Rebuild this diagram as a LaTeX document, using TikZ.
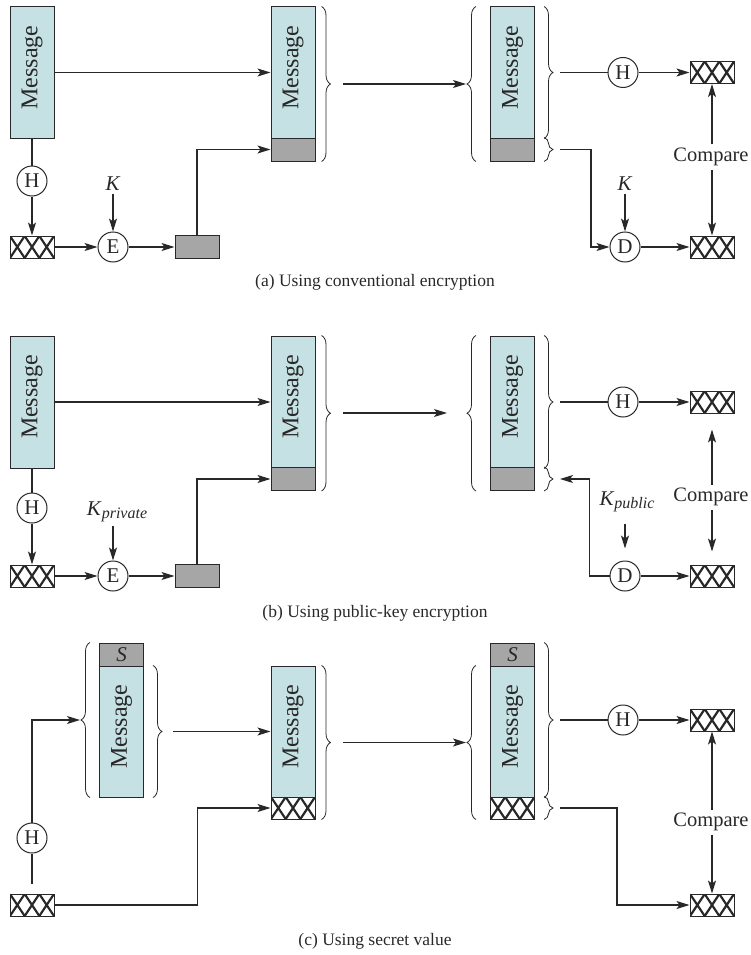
\documentclass[tikz,border=0pt]{standalone}
\usepackage{fontspec}
\setmainfont{Liberation Serif}
\usetikzlibrary{arrows.meta,decorations.pathreplacing,calc}
\definecolor{msgc}{RGB}{197,225,228}
\definecolor{grayc}{RGB}{166,166,166}
\definecolor{linec}{RGB}{40,40,40}
\tikzset{
  base/.style={font=\fontsize{21}{25}\selectfont, text=linec},
  captxt/.style={font=\fontsize{17.5}{21}\selectfont},
  cmptxt/.style={font=\fontsize{20.5}{24}\selectfont},
  msgtxt/.style={font=\fontsize{24}{28}\selectfont},
  msgbox/.style={msgtxt, draw=linec, line width=1pt, fill=msgc, minimum width=44pt, inner sep=0pt},
  graybox/.style={draw=linec, line width=1pt, fill=grayc, minimum width=44pt, minimum height=23pt, inner sep=0pt},
  hashbox/.style={draw=linec, line width=1pt, fill=white, minimum width=44pt, minimum height=22pt, inner sep=0pt,
    path picture={
      \foreach \i in {0,1,2}{
        \draw[line width=2.2pt, draw=linec]
          ([xshift={\i*14.667pt}]path picture bounding box.north west) -- ([xshift={(\i+1)*14.667pt}]path picture bounding box.south west)
          ([xshift={\i*14.667pt}]path picture bounding box.south west) -- ([xshift={(\i+1)*14.667pt}]path picture bounding box.north west);
      }}},
  circ/.style={circle, draw=linec, line width=1pt, fill=white, minimum size=30pt, inner sep=0pt},
  conn/.style={draw=linec, line width=1.2pt},
  arr/.style={conn, -{Stealth[length=13pt,width=8pt,inset=3pt]}},
  brc/.style={draw=linec, line width=0.8pt, decorate, decoration={brace, amplitude=9pt}},
}
\newcommand{\subtxt}[1]{\raisebox{-0.35ex}{\fontsize{16}{16}\selectfont\itshape #1}}
\newcommand{\msgtext}{\rotatebox{90}{\hspace{10pt}Message}}
\begin{document}
\begin{tikzpicture}[x=1pt,y=-1pt, every node/.style={base}]
\useasboundingbox (0,0) rectangle (751,955);

% ================= Panel (a) =================
\node[msgbox, minimum height=131pt] (am1) at (32,72.5) {\msgtext};
\node[circ] (ah1) at (32,181) {H};
\node[hashbox] (ax1) at (32,247) {};
\node[circ] (ae1) at (113,247) {E};
\node (ak1) at (113,184) {\textit{K}};
\node[graybox] (ag1) at (197,247) {};
\node[msgbox, minimum height=131pt] (am2) at (293,72.5) {\msgtext};
\node[graybox] (ag2) at (293,149.5) {};
\node[msgbox, minimum height=131pt] (am3) at (512.5,72.5) {\msgtext};
\node[graybox] (ag3) at (512.5,149.5) {};
\node[circ] (ah2) at (623,72.5) {H};
\node[hashbox] (ax2) at (712,72.5) {};
\node (ak2) at (625,184) {\textit{K}};
\node[circ] (ad1) at (625,247) {D};
\node[hashbox] (ax3) at (712,247) {};
\node[cmptxt] (acmp) at (711,157) {Compare};
\node[captxt] (acap) at (375,282) {(a) Using conventional encryption};

\draw[arr] (am1.east) -- (am2.west);
\draw[conn] (am1.south) -- (ah1.north);
\draw[arr] (ah1.south) -- (ax1.north);
\draw[arr] (ax1.east) -- (ae1.west);
\draw[arr] (ae1.north |- ak1.south) -- (ae1.north);
\draw[arr] (ae1.east) -- (ag1.west);
\draw[arr] (ag1.north) |- (ag2.west);
\draw[brc] ([xshift=6pt]am2.north east) -- ([xshift=6pt]ag2.south east);
\draw[brc] ([xshift=-14pt]ag3.south west) -- ([xshift=-14pt]am3.north west);
\draw[brc] ([xshift=9pt]am3.north east) -- ([xshift=9pt]am3.south east);
\draw[brc] ([xshift=9pt]ag3.north east) -- ([xshift=9pt]ag3.south east);
\coordinate (aout) at (343,84);
\coordinate (ain) at (466,84);
\draw[arr] (aout) -- (ain);
\coordinate (ar1) at (560,72.5);
\draw[conn] (ar1) -- (ah2.west);
\draw[arr] (ah2.east) -- (ax2.west);
\coordinate (ar2) at (560,149.5);
\draw[arr] (ar2) -- ++(31,0) |- (ad1.west);
\draw[arr] (ad1.north |- ak2.south) -- (ad1.north);
\draw[arr] (ad1.east) -- (ax3.west);
\draw[arr] (acmp.north -| ax2.south) -- (ax2.south);
\draw[arr] (acmp.south -| ax3.north) -- (ax3.north);

% ================= Panel (b) =================
\node[msgbox, minimum height=132pt] (bm1) at (32,402) {\msgtext};
\node[circ] (bh1) at (32,508) {H};
\node[hashbox] (bx1) at (32,576) {};
\node[circ] (be1) at (113,576) {E};
\node (bk1) at (117,512) {\textit{K}\subtxt{private}};
\node[graybox] (bg1) at (197,576) {};
\node[msgbox, minimum height=132pt] (bm2) at (293,402) {\msgtext};
\node[graybox] (bg2) at (293,479) {};
\node[msgbox, minimum height=132pt] (bm3) at (512.5,402) {\msgtext};
\node[graybox] (bg3) at (512.5,479) {};
\node[circ] (bh2) at (623,402) {H};
\node[hashbox] (bx2) at (712,402) {};
\node (bk2) at (627,502) {\textit{K}\subtxt{public}};
\node[circ] (bd1) at (625,576) {D};
\node[hashbox] (bx3) at (712,576) {};
\node[cmptxt] (bcmp) at (711,497) {Compare};
\node[captxt] (bcap) at (375,613) {(b) Using public-key encryption};

\draw[arr] (bm1.east) -- (bm2.west);
\draw[conn] (bm1.south) -- (bh1.north);
\draw[arr] (bh1.south) -- (bx1.north);
\draw[arr] (bx1.east) -- (be1.west);
\draw[arr] (be1.north |- bk1.south) -- (be1.north);
\draw[arr] (be1.east) -- (bg1.west);
\draw[arr] (bg1.north) |- (bg2.west);
\draw[brc] ([xshift=6pt]bm2.north east) -- ([xshift=6pt]bg2.south east);
\draw[brc] ([xshift=-14pt]bg3.south west) -- ([xshift=-14pt]bm3.north west);
\draw[brc] ([xshift=9pt]bm3.north east) -- ([xshift=9pt]bm3.south east);
\draw[brc] ([xshift=9pt]bg3.north east) -- ([xshift=9pt]bg3.south east);
\coordinate (bout) at (343,413);
\coordinate (bin) at (447,413);
\draw[arr] (bout) -- (bin);
\coordinate (br1) at (560,402);
\draw[conn] (br1) -- (bh2.west);
\draw[arr] (bh2.east) -- (bx2.west);
\coordinate (br2) at (560,479);
\draw[arr] (bd1.west) -- ++(-20,0) |- (br2);
\draw[arr, shorten <=8pt, shorten >=12pt] (bd1.north |- bk2.south) -- (bd1.north);
\draw[arr] (bd1.east) -- (bx3.west);
\draw[arr, shorten >=16pt] (bcmp.north -| bx2.south) -- (bx2.south);
\draw[arr, shorten >=13pt] (bcmp.south -| bx3.north) -- (bx3.north);

% ================= Panel (c) =================
\node[graybox] (cs1) at (121.5,654.5) {\textit{S}};
\node[msgbox, minimum height=131pt] (cm1) at (121.5,731.5) {\msgtext};
\node[circ] (ch1) at (32,838) {H};
\node[hashbox] (cx1) at (32,905) {};
\node[msgbox, minimum height=131pt] (cm2) at (293,731.5) {\msgtext};
\node[hashbox] (cx2) at (293,808) {};
\node[graybox] (cs3) at (512.5,654.5) {\textit{S}};
\node[msgbox, minimum height=131pt] (cm3) at (512.5,731.5) {\msgtext};
\node[hashbox] (cx3) at (512.5,808) {};
\node[circ] (ch2) at (623,720) {H};
\node[hashbox] (cx4) at (712,720) {};
\node[hashbox] (cx5) at (712,905) {};
\node[cmptxt] (ccmp) at (711,822) {Compare};
\node[captxt] (ccap) at (375,941) {(c) Using secret value};

\draw[brc] ([xshift=-9pt]cm1.south west) -- ([xshift=-9pt]cs1.north west);
\draw[brc] ([xshift=9pt]cm1.north east) -- ([xshift=9pt]cm1.south east);
\draw[brc] ([xshift=6pt]cm2.north east) -- ([xshift=6pt]cx2.south east);
\draw[brc] ([xshift=-14pt]cx3.south west) -- ([xshift=-14pt]cm3.north west);
\draw[brc] ([xshift=9pt]cs3.north east) -- ([xshift=9pt]cm3.south east);
\draw[brc] ([xshift=9pt]cx3.north east) -- ([xshift=9pt]cx3.south east);

\coordinate (cl0) at (32,884);
\draw[conn] (cl0) -- (ch1.south);
\coordinate (clt) at (80,720);
\draw[arr] (ch1.north) |- (clt);
\coordinate (cr0) at (173,731.5);
\draw[arr] (cr0) -- (cm2.west);
\draw[arr] (cx1.east) -- ++(143,0) |- (cx2.west);
\coordinate (cout) at (343,742.5);
\coordinate (cin) at (466,742.5);
\draw[arr] (cout) -- (cin);
\coordinate (crr1) at (560,720);
\draw[conn] (crr1) -- (ch2.west);
\draw[arr] (ch2.east) -- (cx4.west);
\coordinate (crr2) at (560,808);
\draw[arr] (crr2) -- ++(57,0) |- (cx5.west);
\draw[arr] (ccmp.north -| cx4.south) -- (cx4.south);
\draw[arr] (ccmp.south -| cx5.north) -- (cx5.north);
\end{tikzpicture}
\end{document}
